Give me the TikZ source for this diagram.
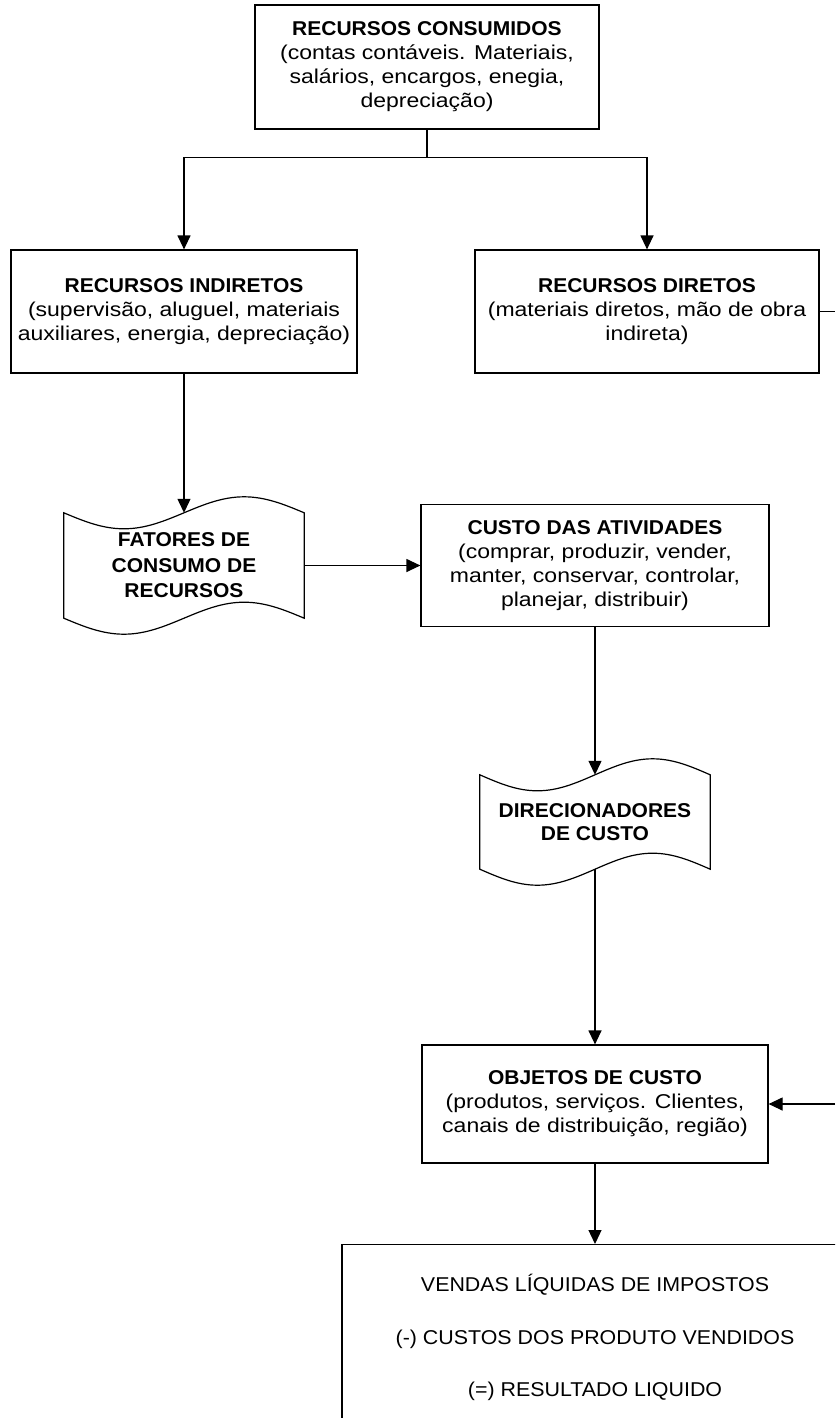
\documentclass[tikz,border=0pt]{standalone}
\usepackage{fontspec}
\setmainfont{Liberation Sans}[FakeStretch=1.15,BoldFeatures={FakeStretch=1.05}]
\newfontfamily\resultfont{Liberation Sans}[FakeStretch=1.07]
\usetikzlibrary{arrows.meta,calc}

% wavy "punched tape" outline around a node, amplitude #2
\newcommand\tapeoutline[2]{%
  \draw[plain]
    (#1.north west)
      sin ($(#1.north west)!0.25!(#1.north east)+(0,#2)$)
      cos (#1.north)
      sin ($(#1.north west)!0.75!(#1.north east)+(0,-#2)$)
      cos (#1.north east)
    -- (#1.south east)
      sin ($(#1.south west)!0.75!(#1.south east)+(0,-#2)$)
      cos (#1.south)
      sin ($(#1.south west)!0.25!(#1.south east)+(0,#2)$)
      cos (#1.south west)
    -- cycle;}

\begin{document}
\begin{tikzpicture}[x=1pt,y=-1pt,
  plain/.style={line width=1.2pt},
  box/.style={draw, plain, rectangle, align=center, inner sep=2pt,
    font=\fontsize{20}{24}\selectfont},
  doc/.style={rectangle, align=center, inner sep=0pt,
    font=\fontsize{20}{25.5}\selectfont\bfseries},
  link/.style={plain, -{Triangle[length=14pt,width=13pt]}}]
\useasboundingbox (0,0) rectangle (835,1418);
\clip (0,0) rectangle (835,1418);

% boxes
\node[box, minimum width=344pt, minimum height=124pt] (cons) at (427,67)
  {\textbf{RECURSOS CONSUMIDOS}\\(contas contáveis. Materiais,\\salários, encargos, enegia,\\depreciação)};
\node[box, minimum width=346pt, minimum height=123pt] (ind) at (184,311.5)
  {\textbf{RECURSOS INDIRETOS}\\(supervisão, aluguel, materiais\\auxiliares, energia, depreciação)};
\node[box, minimum width=344pt, minimum height=123pt] (dir) at (647,311.5)
  {\textbf{RECURSOS DIRETOS}\\(materiais diretos, mão de obra\\indireta)};
\node[doc, minimum width=240pt, minimum height=105pt] (fat) at (184,565.5)
  {FATORES DE\\CONSUMO DE\\RECURSOS};
\node[box, minimum width=348pt, minimum height=122pt] (cust) at (595,565.5)
  {\textbf{CUSTO DAS ATIVIDADES}\\(comprar, produzir, vender,\\manter, conservar, controlar,\\planejar, distribuir)};
\node[doc, minimum width=230pt, minimum height=94pt,
  font=\fontsize{20}{23.5}\selectfont\bfseries] (drv) at (595,822)
  {DIRECIONADORES\\DE CUSTO};
\node[box, minimum width=346pt, minimum height=118pt] (obj) at (595,1104)
  {\textbf{OBJETOS DE CUSTO}\\(produtos, serviços. Clientes,\\canais de distribuição, região)};
\node[box, anchor=north, minimum width=506pt, minimum height=186pt,
  font=\resultfont\fontsize{20}{52.5}\selectfont] (res) at (595,1244)
  {VENDAS LÍQUIDAS DE IMPOSTOS\\(-) CUSTOS DOS PRODUTO VENDIDOS\\(=) RESULTADO LIQUIDO};

\tapeoutline{fat}{16}
\tapeoutline{drv}{16}

% connectors
\draw[plain] (cons.south) -- ++(0,28) coordinate (split);
\draw[link] (split) -| (ind.north);
\draw[link] (split) -| (dir.north);
\draw[link] (ind.south) -- (fat.north);
\draw[link] (fat.east) -- (cust.west);
\draw[link] (cust.south) -- (drv.north);
\draw[link] (drv.south) -- (obj.north);
\draw[link] (obj.south) -- (res.north);
\coordinate (outR) at (835,311.5);
\draw[plain] (dir.east) -- (outR);
\coordinate (inR) at (835,1104);
\draw[link] (inR) -- (obj.east);
\end{tikzpicture}
\end{document}
